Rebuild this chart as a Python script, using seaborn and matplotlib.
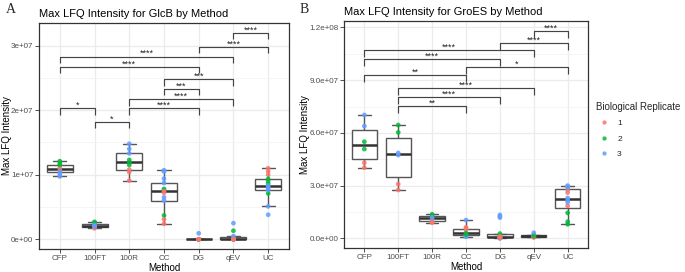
import matplotlib
matplotlib.use("Agg")
import matplotlib.pyplot as plt
from matplotlib.ticker import FixedLocator
import seaborn as sns
import pandas as pd

# Methods (x categories) and replicate colours
methods = ['CFP', '100FT', '100R', 'CC', 'DG', 'qEV', 'UC']
rep_colors = {'1': '#F8766D', '2': '#00BA38', '3': '#619CFF'}

# GlcB values (units of 1e7)
glcb_method = (['CFP'] * 8 + ['100FT'] * 7 + ['100R'] * 9 + ['CC'] * 13
               + ['DG'] * 10 + ['qEV'] * 12 + ['UC'] * 13)
glcb_rep = (['1', '1', '2', '2', '2', '3', '3', '3']
            + ['1', '1', '2', '2', '3', '3', '3']
            + ['3', '3', '3', '2', '2', '2', '1', '1', '1']
            + ['3', '3', '3', '3', '3', '3', '2', '2', '2', '1', '1', '1', '1']
            + ['3', '3', '3', '3', '2', '2', '2', '1', '1', '1']
            + ['3', '3', '3', '3', '3', '2', '2', '2', '1', '1', '1', '1']
            + ['1', '1', '1', '2', '2', '2', '2', '3', '3', '3', '3', '3', '3'])
glcb_value = ([1.11, 1.07, 1.21, 1.175, 1.15, 1.046, 1.01, 0.974]
              + [0.17, 0.19, 0.27, 0.26, 0.21, 0.20, 0.22]
              + [1.48, 1.40, 1.33, 1.23, 1.19, 1.15, 1.08, 1.04, 0.91]
              + [1.07, 1.05, 0.94, 0.87, 0.65, 0.60, 0.78, 0.76, 0.37, 0.745, 0.72, 0.31, 0.24]
              + [0.093, 0.0, 0.0, 0.0, 0.0, 0.0, 0.0, 0.0, 0.0, 0.0]
              + [0.25, 0.05, 0.03, 0.0, 0.0, 0.133, 0.0, 0.0, 0.0, 0.0, 0.0, 0.0]
              + [1.10, 1.05, 1.00, 0.935, 0.90, 0.86, 0.71, 0.83, 0.81, 0.79, 0.763, 0.51, 0.38])

# GroES values (units of 1e7)
groes_method = (['CFP'] * 6 + ['100FT'] * 6 + ['100R'] * 6 + ['CC'] * 9
                + ['DG'] * 13 + ['qEV'] * 8 + ['UC'] * 12)
groes_rep = (['3', '3', '2', '2', '1', '1']
             + ['2', '2', '3', '3', '1', '1']
             + ['2', '2', '3', '3', '1', '1']
             + ['3', '3', '3', '3', '1', '1', '1', '2', '2']
             + ['3', '3', '3', '3', '3', '3', '2', '2', '2', '1', '1', '1', '1']
             + ['3', '3', '3', '3', '1', '1', '1', '2']
             + ['2', '2', '2', '1', '3', '3', '3', '1', '1', '3', '3', '3'])
groes_value = ([7.02, 6.39, 5.50, 5.08, 4.30, 4.02]
               + [6.45, 6.03, 4.86, 4.74, 3.09, 2.75]
               + [1.37, 1.30, 1.20, 1.10, 0.95, 0.89]
               + [1.04, 0.17, 0.12, 0.09, 0.63, 0.55, 0.48, 0.29, 0.22]
               + [1.33, 1.25, 1.18, 0.05, 0.02, 0.0, 0.27, 0.12, 0.15, 0.03, 0.07, 0.09, 0.10]
               + [0.32, 0.21, 0.10, 0.15, 0.05, 0.08, 0.10, 0.12]
               + [0.80, 0.95, 1.45, 1.85, 2.05, 2.18, 2.30, 2.60, 2.75, 2.90, 2.95, 3.00])

# Significance brackets: (left method, right method, height in 1e7, label)
glcb_brackets = [('qEV', 'UC', 3.20, '****'), ('DG', 'UC', 2.98, '****'),
                 ('CFP', 'qEV', 2.83, '****'), ('CFP', 'DG', 2.67, '****'),
                 ('CC', 'qEV', 2.48, '***'), ('CC', 'DG', 2.33, '***'),
                 ('100R', 'qEV', 2.17, '****'), ('100R', 'DG', 2.03, '****'),
                 ('CFP', '100FT', 2.03, '*'), ('100FT', '100R', 1.82, '*')]
groes_brackets = [('qEV', 'UC', 11.80, '****'), ('DG', 'UC', 11.10, '****'),
                  ('CFP', 'qEV', 10.72, '****'), ('CFP', 'DG', 10.22, '****'),
                  ('CC', 'UC', 9.77, '*'), ('CFP', 'CC', 9.28, '**'),
                  ('100FT', 'qEV', 8.56, '****'), ('100FT', 'DG', 8.04, '****'),
                  ('100FT', 'CC', 7.53, '**')]

glcb_ticks = [0, 1, 2, 3]
glcb_ticklabels = ['0e+00', '1e+07', '2e+07', '3e+07']
groes_ticks = [0, 3, 6, 9, 12]
groes_ticklabels = ['0.0e+00', '3.0e+07', '6.0e+07', '9.0e+07', '1.2e+08']

scale = 1e7
glcb = pd.DataFrame({'Method': glcb_method, 'rep': glcb_rep,
                     'value': [v * scale for v in glcb_value]})
groes = pd.DataFrame({'Method': groes_method, 'rep': groes_rep,
                      'value': [v * scale for v in groes_value]})

sns.set_theme(style='white')
plt.rcParams['font.family'] = ['Liberation Sans', 'DejaVu Sans']

fig = plt.figure(figsize=(6.85, 2.72), dpi=100)
ax1 = fig.add_axes([0.0569, 0.0846, 0.365, 0.8308])
ax2 = fig.add_axes([0.5022, 0.0882, 0.3562, 0.8346])

edge = '#333333'


def draw_panel(ax, df, brackets, ticks, ticklabels, ylim, drop, title, legend):
    sns.boxplot(data=df, x='Method', y='value', order=methods, ax=ax,
                color='white', linecolor='#555555', linewidth=1.0, width=0.75,
                showfliers=False, whis=1.5,
                medianprops={'linewidth': 1.8, 'color': '#333333'})
    sns.stripplot(data=df, x='Method', y='value', order=methods, hue='rep',
                  hue_order=['1', '2', '3'], palette=rep_colors, jitter=False,
                  size=3.4, linewidth=0, alpha=0.85, ax=ax, zorder=4,
                  legend=legend)
    for left, right, h, lab in brackets:
        x1, x2 = methods.index(left), methods.index(right)
        y = h * scale
        d = drop * scale
        ax.plot([x1, x1, x2, x2], [y - d, y, y, y - d], color='#444444', lw=0.85,
                zorder=5, solid_capstyle='butt')
        ax.annotate(lab, ((x1 + x2) / 2, y), xytext=(0, 0.3),
                    textcoords='offset points', ha='center', va='baseline',
                    fontsize=6.6, color='#222222')
    ax.set_xlim(-0.6, 6.6)
    ax.set_ylim(ylim[0] * scale, ylim[1] * scale)
    ax.set_yticks([t * scale for t in ticks])
    ax.set_yticklabels(ticklabels)
    minors = [(a + b) / 2 * scale for a, b in zip(ticks[:-1], ticks[1:])]
    ax.yaxis.set_minor_locator(FixedLocator(minors))
    ax.set_axisbelow(True)
    ax.grid(which='major', color='#EBEBEB', lw=0.9)
    ax.grid(which='minor', axis='y', color='#F2F2F2', lw=0.5)
    for s in ax.spines.values():
        s.set_color(edge)
        s.set_linewidth(0.9)
    ax.tick_params(axis='both', which='major', length=2.6, width=0.6,
                   color=edge, labelcolor='#4d4d4d', labelsize=5.8, pad=1.5,
                   left=True, bottom=True)
    ax.tick_params(which='minor', length=0)
    ax.set_xlabel('Method', fontsize=7, labelpad=1, color='black')
    ax.set_ylabel('Max LFQ Intensity', fontsize=7, labelpad=-0.5, color='black')
    ax.set_title(title, loc='left', fontsize=8, pad=4.5, color='black')


draw_panel(ax1, glcb, glcb_brackets, glcb_ticks, glcb_ticklabels,
           (-0.15, 3.35), 0.1, 'Max LFQ Intensity for GlcB by Method', False)
draw_panel(ax2, groes, groes_brackets, groes_ticks, groes_ticklabels,
           (-0.55, 12.37), 0.4, 'Max LFQ Intensity for GroES by Method', True)

sns.move_legend(ax2, loc='center left', bbox_to_anchor=(1.0, 0.52),
                frameon=False, title='Biological Replicate', fontsize=6,
                title_fontsize=7, markerscale=0.9, handletextpad=0.6,
                labelspacing=0.9, borderaxespad=0.5)
leg = ax2.get_legend()
leg._legend_box.align = 'left'

fig.text(0.008, 0.965, 'A', fontsize=10, family='Liberation Serif', va='center')
fig.text(0.437, 0.965, 'B', fontsize=10, family='Liberation Serif', va='center')

fig.savefig('out.png', dpi=100)
